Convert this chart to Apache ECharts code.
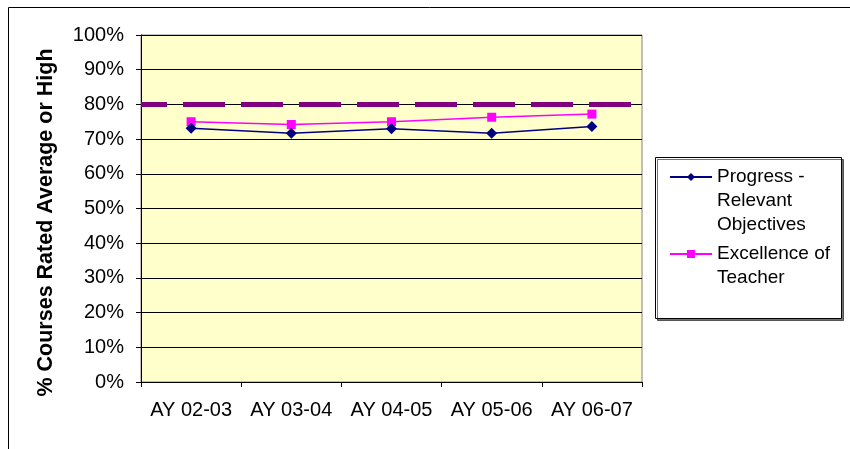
<!DOCTYPE html>
<html><head><meta charset="utf-8">
<script src="https://cdn.jsdelivr.net/npm/echarts@6/dist/echarts.min.js"></script>
<style>html,body{margin:0;padding:0;background:#fff}#c{width:850px;height:449px}</style>
</head><body><div id="c"></div>
<script>
const categories = ['AY 02-03','AY 03-04','AY 04-05','AY 05-06','AY 06-07'];
const progressValues = [0.731, 0.717, 0.730, 0.717, 0.736];
const excellenceValues = [0.750, 0.742, 0.750, 0.763, 0.772];
const targetValue = 0.8;
const seriesNames = ['Progress - Relevant Objectives', 'Excellence of Teacher'];
const legendLabels = ['Progress -\nRelevant\nObjectives', 'Excellence of\nTeacher'];
const yAxisTitle = '% Courses Rated Average or High';

const font = 'Liberation Sans, Arial, sans-serif';
const chart = echarts.init(document.getElementById('c'), null, {renderer:'canvas'});

// leading blank lines keep each legend icon level with the first text line
function legendText(name){
  const lbl = legendLabels[seriesNames.indexOf(name)];
  const n = lbl.split('\n').length;
  return '\n'.repeat(n-1) + lbl;
}

chart.setOption({
  animation:false,
  backgroundColor:'#ffffff',
  graphic:[
    {type:'rect', shape:{x:8.5,y:7.5,width:860,height:460}, style:{fill:null, stroke:'#000', lineWidth:1}, z:-1},
    {type:'rect', shape:{x:655.5,y:157.5,width:186,height:161}, style:{fill:'#fff', stroke:'#000', lineWidth:1, shadowColor:'rgba(0,0,0,0.55)', shadowOffsetX:2, shadowOffsetY:2, shadowBlur:0}, z:0}
  ],
  grid:{left:141, right:208, top:35, bottom:67, show:true, backgroundColor:'#FFFFCC', borderColor:'#808080', borderWidth:1},
  legend:{
    left:669, top:117, orient:'vertical',
    padding:0, z:5,
    itemWidth:42, itemHeight:10, itemGap:-19,
    formatter:legendText,
    textStyle:{fontFamily:font, fontSize:19, color:'#000', lineHeight:24},
    data:seriesNames
  },
  xAxis:{type:'category', data:categories, boundaryGap:true,
    axisLine:{lineStyle:{color:'#000'}},
    axisTick:{show:true, length:5, lineStyle:{color:'#000'}},
    axisLabel:{fontFamily:font, fontSize:20, color:'#000', margin:18, interval:0}},
  yAxis:{type:'value', min:0, max:1, interval:0.1,
    name:yAxisTitle, nameLocation:'middle', nameGap:84, nameRotate:90,
    nameTextStyle:{fontFamily:font, fontSize:21.5, fontWeight:'bold', color:'#000', padding:[0,28,0,0]},
    axisLine:{show:true, lineStyle:{color:'#000'}},
    axisTick:{show:true, length:5, lineStyle:{color:'#000'}},
    splitLine:{show:true, lineStyle:{color:'#000', width:1}},
    axisLabel:{fontFamily:font, fontSize:20, color:'#000', margin:17,
      formatter:v=>Math.round(v*100)+'%'}},
  series:[
    {name:seriesNames[0], type:'line', data:progressValues,
     symbol:'diamond', symbolSize:11, color:'#000080',
     lineStyle:{color:'#000080', width:1.5}, itemStyle:{color:'#000080'}, z:3,
     markLine:{silent:true, symbol:'none', label:{show:false},
       lineStyle:{color:'#800080', width:5, type:[42,16], dashOffset:16},
       data:[{yAxis:targetValue}]}},
    {name:seriesNames[1], type:'line', data:excellenceValues,
     symbol:'rect', symbolSize:9, color:'#FF00FF',
     lineStyle:{color:'#FF00FF', width:1.5}, itemStyle:{color:'#FF00FF'}, z:2}
  ]
});
</script></body></html>
